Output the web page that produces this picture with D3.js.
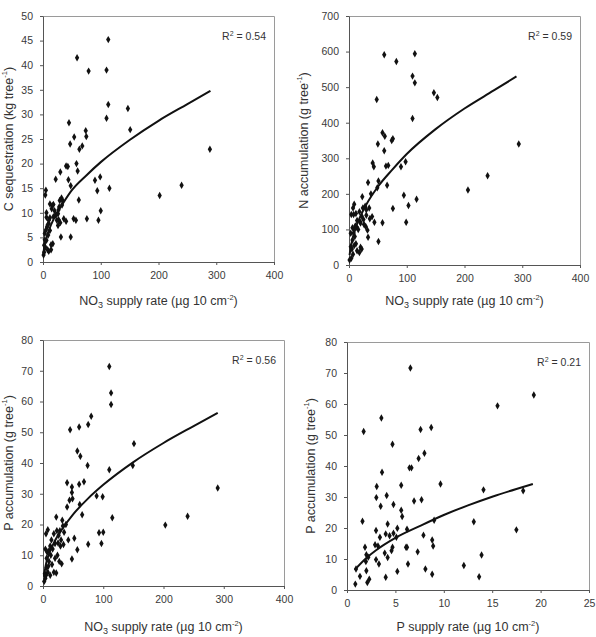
<!DOCTYPE html>
<html lang="en">
<head>
<meta charset="utf-8">
<title>Nutrient supply vs accumulation</title>
<script src="https://d3js.org/d3.v7.min.js"></script>
<style>
  body { margin: 0; background: #fff; }
  svg { font-family: "Liberation Sans", Arial, sans-serif; }
  .tick text { font-size: 10.5px; fill: #3a3a3a; }
  .axis path, .axis line { stroke: #555; }
  .frame { fill: none; stroke: #9a9a9a; }
  .title { font-size: 12.5px; fill: #333; }
  .r2 { font-size: 10.5px; fill: #333; }
  .fit { fill: none; stroke: #111; stroke-width: 2; }
</style>
</head>
<body>
<svg id="chart" width="596" height="637"></svg>
<script>
// panel A: NO3 supply rate vs C sequestration (kg tree-1)
const cSeqPoints = [
  [113,45.2],[59,41.5],[79,38.8],[110,39],[113,32],[147,31.2],[110,29.2],[151,26.9],
  [45,28.3],[74,26.7],[75,25.5],[54,25.4],[47,24],[68,23.6],[63,22.9],[289,22.9],
  [58,20],[40,19.5],[43,19.4],[60,18.5],[30,18.3],[22,16.8],[44,16.7],[99,17.3],
  [90,16.6],[94,14.5],[115,15],[240,15.6],[202,13.5],[48,15.5],[5,14.6],[4,13.6],
  [62,12.6],[32,13],[29,12.5],[12,11.8],[18,11.7],[15,10.8],[20,10.4],[26,9.8],
  [100,10.4],[27,8.6],[36,8.8],[40,8.3],[53,8.8],[57,8.5],[76,8.8],[96,8.5],
  [6,9.1],[10,7.9],[7,7.1],[26,7.4],[31,5.1],[48,5.1],[3,5.8],[6,4.4],[2,3.4],
  [17,3.7],[14,2.5],[10,2.2],[1,1.4],[4,3],[12,6.4],[8,7.5],[5,6.5],[3,4.5],
  [9,5.5],[12,9],[16,11.5],[22,9.5],[28,11.2],[34,12.5],[24,8.5],[30,8],[2,2],
  [8,2.5],[14,3.5],[6,10],[10,8.5],[18,9.2],[33,11.6],[27,10.6]
];
const cSeqFit = [[0.7,1.6],[2,2.9],[5,4.5],[10,6.4],[20,9.1],[35,12],[50,14.6],[75,17.6],
  [100,20.3],[150,24.8],[200,28.7],[250,32.1],[290,34.8]];

// panel B: NO3 supply rate vs N accumulation (g tree-1)
const nAccPoints = [
  [61,591],[114,594],[82,572],[110,531],[114,512],[48,465],[147,484],[153,471],
  [110,412],[58,372],[62,362],[76,355],[74,350],[50,340],[294,340],[61,321],
  [41,287],[43,276],[64,278],[68,280],[98,290],[90,276],[33,232],[51,236],
  [49,217],[66,224],[38,200],[95,196],[23,192],[103,167],[117,185],[206,211],
  [240,251],[76,159],[99,120],[58,119],[44,120],[51,66],[33,78],[29,108],[32,98],
  [26,114],[19,122],[22,138],[40,136],[9,171],[7,160],[4,142],[8,142],[12,145],
  [18,150],[24,160],[28,165],[30,155],[35,160],[3,89],[3,51],[4,19],[1,14],
  [6,105],[9,100],[11,110],[14,105],[8,90],[10,80],[12,60],[6,70],[9,55],[14,40],
  [18,35],[20,50],[22,45],[5,45],[7,30],[16,100],[20,118],[14,125],[25,128],
  [30,140],[36,130]
];
const nAccFit = [[1,28],[3,50],[5,66],[10,97],[20,138],[30,170],[50,220],[75,268],
  [100,312],[150,382],[200,440],[250,490],[290,530]];

// panel C: NO3 supply rate vs P accumulation (g tree-1)
const pAccPoints = [
  [110,71.4],[113,62.8],[113,59],[80,55.2],[75,52.5],[60,51.7],[45,50.8],[151,46.3],
  [57,43.9],[62,42.2],[74,39.2],[149,39.2],[110,37.8],[290,31.9],[40,33.6],[68,33.9],
  [60,33.1],[48,32.2],[48,30.4],[49,28.4],[44,27.9],[99,29],[89,29.3],[40,25.7],
  [61,26.5],[65,23.2],[32,21.4],[22,22.4],[115,22.2],[203,19.8],[240,22.7],[75,13.6],
  [97,13.8],[100,17.5],[93,17.3],[57,11.8],[52,15.5],[48,8.8],[42,15],[34,13.5],
  [29,13],[31,7.2],[27,8],[24,10],[23,18],[28,18],[33,19.5],[26,16.5],[18,17],
  [14,15],[12,13],[16,12],[20,13.8],[8,18.3],[5,17],[4,12],[7,11],[10,11.5],[10,8],
  [6,6],[9,6.5],[3,4],[5,3.5],[8,4.5],[12,3.5],[18,4.5],[22,4.2],[2,1.5],[4,2.5],
  [15,7],[20,9],[6,9],[13,10],[30,15],[35,17.5],[25,14],[38,20]
];
const pAccFit = [[1.5,3],[5,7.2],[10,10.4],[20,14.8],[30,18],[50,23.3],[75,28.5],
  [100,32.9],[150,40.3],[200,46.5],[250,52],[290,56.3]];

// panel D: P supply rate vs P accumulation (g tree-1)
const pSupplyPoints = [
  [6.55,71.6],[19.3,62.9],[15.55,59.4],[3.55,55.5],[1.72,51.1],[8.7,52.4],[7.6,51.8],
  [4.7,47],[8.0,44.1],[7.4,42.4],[6.45,39.4],[6.66,39.4],[3.62,38],[9.66,34.2],
  [14.1,32.3],[3.07,33.4],[4.1,30.5],[3.03,29.8],[5.6,33.8],[6.93,28.7],[7.7,29.1],
  [3.48,27],[4.8,27.6],[5.6,25.7],[5.7,23.7],[18.2,32],[17.5,19.4],[13.1,22],
  [13.9,11.3],[13.65,4.3],[12.07,7.9],[1.6,22.2],[0.93,6.8],[0.86,1.9],[1.34,4.4],
  [1.86,13.8],[2.0,11.4],[2.2,10.6],[1.95,9.2],[2.0,6.2],[2.1,2.4],[2.3,3.5],
  [3.0,19.2],[2.9,14.6],[3.2,14.2],[3.0,9.8],[3.3,8.4],[3.4,17],[3.9,11.9],
  [4.0,4.1],[4.2,10.5],[4.2,21.3],[4.0,18.1],[4.4,17.5],[4.7,13.8],[4.6,12.7],
  [4.8,18.3],[5.1,17],[5.2,19.9],[5.2,6],[6.2,19.6],[6.1,13.8],[6.2,13.8],[6.3,8.4],
  [7.3,12.3],[7.9,17.7],[8.1,6.8],[8.8,16.1],[8.9,14.2],[8.8,5.1],[9.0,22.5]
];
const pSupplyFit = [[0.8,6.5],[2,10.3],[3,12.8],[5,16.8],[7.5,20.6],[10,24.2],
  [12.5,27.3],[15,30.1],[17.5,32.6],[19.2,34.2]];

const panels = [
  { points: cSeqPoints, fit: cSeqFit, x: [0, 400], y: [0, 50], xTicks: [0,100,200,300,400], yTicks: d3.range(0, 51, 5),
    box: [43, 274, 16, 262], r2: "0.54", xTitle: "NO3", yMain: "C sequestration (kg tree", titleX: 9, titleY: 305 },
  { points: nAccPoints, fit: nAccFit, x: [0, 400], y: [0, 700], xTicks: [0,100,200,300,400], yTicks: d3.range(0, 701, 100),
    box: [349, 580, 16, 265], r2: "0.59", xTitle: "NO3", yMain: "N accumulation (g tree", titleX: 304, titleY: 305 },
  { points: pAccPoints, fit: pAccFit, x: [0, 400], y: [0, 80], xTicks: [0,100,200,300,400], yTicks: d3.range(0, 81, 10),
    box: [43, 284, 340, 586], r2: "0.56", xTitle: "NO3", yMain: "P accumulation (g tree", titleX: 9, titleY: 631 },
  { points: pSupplyPoints, fit: pSupplyFit, x: [0, 25], y: [0, 80], xTicks: [0,5,10,15,20,25], yTicks: d3.range(0, 81, 10),
    box: [347, 589, 342, 590], r2: "0.21", xTitle: "P", yMain: "P accumulation (g tree", titleX: 311, titleY: 631 }
];

const svg = d3.select("#chart");
const diamond = d3.symbol().type(d3.symbolDiamond).size(16);

panels.forEach(p => {
  const [l, r, t, b] = p.box;
  const xs = d3.scaleLinear().domain(p.x).range([l, r]);
  const ys = d3.scaleLinear().domain(p.y).range([b, t]);
  const g = svg.append("g");

  // light frame on top and right
  g.append("path").attr("class", "frame")
    .attr("d", `M${l},${t + 0.5}H${r + 0.5}V${b}`);

  g.append("g").attr("class", "axis")
    .attr("transform", `translate(0,${b})`)
    .call(d3.axisBottom(xs).tickValues(p.xTicks).tickSize(3).tickPadding(7).tickSizeOuter(0));

  g.append("g").attr("class", "axis")
    .attr("transform", `translate(${l},0)`)
    .call(d3.axisLeft(ys).tickValues(p.yTicks).tickSize(3).tickPadding(7).tickSizeOuter(0));

  g.selectAll("path.pt")
    .data(p.points)
    .enter()
    .append("path")
    .attr("class", "pt")
    .attr("d", diamond)
    .attr("fill", "#111")
    .attr("transform", d => `translate(${xs(d[0])},${ys(d[1])})`);

  const line = d3.line().x(d => xs(d[0])).y(d => ys(d[1])).curve(d3.curveMonotoneX);
  g.append("path").attr("class", "fit").attr("d", line(p.fit));

  const r2 = g.append("text").attr("class", "r2")
    .attr("x", r - 8).attr("y", t + 24).attr("text-anchor", "end");
  r2.append("tspan").text("R");
  r2.append("tspan").attr("dy", -4).attr("font-size", "7px").text("2");
  r2.append("tspan").attr("dy", 4).text(" = " + p.r2);

  // x title
  const xt = g.append("text").attr("class", "title")
    .attr("x", (l + r) / 2).attr("y", p.titleY).attr("text-anchor", "middle");
  if (p.xTitle === "NO3") {
    xt.append("tspan").text("NO");
    xt.append("tspan").attr("dy", 3).attr("font-size", "9px").text("3");
    xt.append("tspan").attr("dy", -3).text(" supply rate (\u00b5g 10 cm");
  } else {
    xt.append("tspan").text("P supply rate (\u00b5g 10 cm");
  }
  xt.append("tspan").attr("dy", -5).attr("font-size", "7.5px").text("-2");
  xt.append("tspan").attr("dy", 5).text(")");

  // y title
  const cy = (t + b) / 2;
  const yt = g.append("text").attr("class", "title")
    .attr("transform", `translate(${p.titleX},${cy}) rotate(-90)`)
    .attr("text-anchor", "middle").attr("dominant-baseline", "central");
  yt.append("tspan").text(p.yMain);
  yt.append("tspan").attr("dy", -5).attr("font-size", "7.5px").text("-1");
  yt.append("tspan").attr("dy", 5).text(")");
});
</script>
</body>
</html>
